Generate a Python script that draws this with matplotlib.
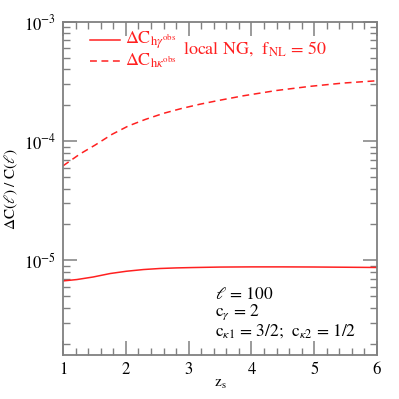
import numpy as np
import matplotlib
matplotlib.use("Agg")
from matplotlib import pyplot as plt
from matplotlib.ticker import MultipleLocator, LogLocator, NullFormatter

plt.rcParams['font.family'] = ['STIXGeneral', 'DejaVu Serif']
plt.rcParams['mathtext.fontset'] = 'stix'

# values
z_gamma = [1.0, 1.22, 1.48, 1.75, 2.01, 2.28, 2.54, 2.81, 3.07, 3.5, 4.0, 4.5, 5.0, 5.5, 6.0]
dC_hgamma = [6.71e-6, 6.89e-6, 7.24e-6, 7.74e-6, 8.09e-6, 8.36e-6, 8.53e-6, 8.63e-6, 8.69e-6,
             8.77e-6, 8.80e-6, 8.80e-6, 8.78e-6, 8.74e-6, 8.70e-6]
z_kappa = [1.0, 1.27, 1.51, 1.78, 2.04, 2.31, 2.60, 2.89, 3.18, 3.47, 3.87, 4.40, 4.93, 5.46, 6.0]
dC_hkappa = [6.2e-5, 7.8e-5, 9.26e-5, 1.14e-4, 1.34e-4, 1.52e-4, 1.71e-4, 1.88e-4, 2.04e-4,
             2.19e-4, 2.40e-4, 2.66e-4, 2.88e-4, 3.07e-4, 3.21e-4]

red = '#ff2020'
grey = '#808080'

fig = plt.figure(figsize=(3.99, 3.99), dpi=100)
ax = fig.add_axes([0.158, 0.110, 0.787, 0.835])

ax.plot(z_gamma, dC_hgamma, color=red, lw=1.1, ls='-')
ax.plot(z_kappa, dC_hkappa, color=red, lw=1.1, ls=(0, (4.5, 3)))

ax.set_yscale('log')
ax.set_xlim(1, 6)
ax.set_ylim(1.6e-6, 1e-3)

ax.xaxis.set_major_locator(MultipleLocator(1))
ax.xaxis.set_minor_locator(MultipleLocator(0.2))
ax.yaxis.set_major_locator(LogLocator(base=10, numticks=10))
ax.yaxis.set_minor_locator(LogLocator(base=10, subs=np.arange(2, 10), numticks=20))
ax.yaxis.set_minor_formatter(NullFormatter())

for s in ax.spines.values():
    s.set_color(grey)
    s.set_linewidth(1.3)
ax.tick_params(which='both', direction='in', top=True, right=True, color=grey, labelsize=12)
ax.tick_params(which='major', length=10, width=1.1, pad=5)
ax.tick_params(which='minor', length=5, width=1.0)

ax.set_xlabel(r'$\mathrm{z_s}$', fontsize=11, labelpad=0)
ax.set_ylabel(r'$\Delta\mathrm{C}(\ell)\ /\ \mathrm{C}(\ell)$', fontsize=11, labelpad=3)

# legend drawn by hand like the original
ax.plot([1.43, 1.91], [7.07e-4, 7.07e-4], color=red, lw=1.1)
ax.plot([1.43, 1.91], [4.72e-4, 4.72e-4], color=red, lw=1.1, ls=(0, (4.5, 3)))
ax.text(1.99, 7.07e-4, r'$\Delta\mathrm{C}_{\mathrm{h}\gamma^{\mathrm{obs}}}$', color=red, fontsize=13, va='center')
ax.text(1.99, 4.72e-4, r'$\Delta\mathrm{C}_{\mathrm{h}\kappa^{\mathrm{obs}}}$', color=red, fontsize=13, va='center')
ax.text(2.91, 6.0e-4, r'local NG,  $\mathrm{f_{NL}}$ = 50', color=red, fontsize=13, va='center')

ax.text(3.42, 5.1e-6, r'$\ell$ = 100', fontsize=12.5, va='center')
ax.text(3.42, 3.67e-6, r'$\mathrm{c}_\gamma$ = 2', fontsize=12.5, va='center')
ax.text(3.42, 2.55e-6, r'$\mathrm{c}_{\kappa 1}$ = 3/2;  $\mathrm{c}_{\kappa 2}$ = 1/2', fontsize=12.5, va='center')

fig.savefig('out.png', dpi=100)
